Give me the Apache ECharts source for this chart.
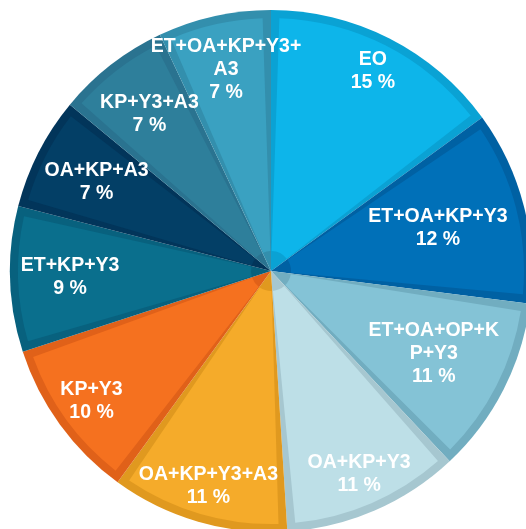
<!DOCTYPE html>
<html>
<head>
<meta charset="utf-8">
<script src="https://cdn.jsdelivr.net/npm/echarts@6/dist/echarts.min.js"></script>
<style>
html, body { margin: 0; padding: 0; background: #fff; }
#main { width: 526px; height: 529px; }
</style>
</head>
<body>
<div id="main"></div>
<script>
// categories and their shares (%)
var names = ['EO', 'ET+OA+KP+Y3', 'ET+OA+OP+KP+Y3', 'OA+KP+Y3', 'OA+KP+Y3+A3', 'KP+Y3', 'ET+KP+Y3', 'OA+KP+A3', 'KP+Y3+A3', 'ET+OA+KP+Y3+A3'];
var values = [15, 12, 11, 11, 11, 10, 9, 7, 7, 7];
// label text as wrapped in the picture
var labelNames = ['EO', 'ET+OA+KP+Y3', 'ET+OA+OP+K\nP+Y3', 'OA+KP+Y3', 'OA+KP+Y3+A3', 'KP+Y3', 'ET+KP+Y3', 'OA+KP+A3', 'KP+Y3+A3', 'ET+OA+KP+Y3+\nA3'];

// look
var fills = ['#0db5ea', '#0070b8', '#84c3d6', '#bddfe7', '#f5ab2a', '#f5711f', '#0a6f8d', '#033f66', '#2e7f9b', '#3aa1c1'];
var edges = ['#0aa2d4', '#0061a3', '#71adc0', '#a6c7d0', '#e0991f', '#e06119', '#08617e', '#02355a', '#2a7390', '#338fad'];
var labelDist = [0.86, 0.66, 0.70, 0.85, 0.86, 0.85, 0.77, 0.75, 0.76, 0.79];

var cx = 271, cy = 271, R = 261;

var chart = echarts.init(document.getElementById('main'));

var total = 0;
for (var i = 0; i < values.length; i++) total += values[i];
var mids = [];
var acc = 0;
for (var i = 0; i < values.length; i++) {
    mids.push((acc + values[i] / 2) / total * Math.PI * 2);
    acc += values[i];
}

var under = [], over = [];
for (var i = 0; i < names.length; i++) {
    under.push({ name: names[i], value: values[i], itemStyle: { color: edges[i] } });
    over.push({ name: names[i], value: values[i], itemStyle: { color: fills[i] } });
}

var option = {
    animation: false,
    backgroundColor: '#ffffff',
    series: [
        {
            type: 'pie',
            center: [cx, cy],
            radius: [0, R],
            startAngle: 90,
            silent: true,
            label: { show: false },
            labelLine: { show: false },
            data: under
        },
        {
            type: 'pie',
            center: [cx, cy],
            radius: [20, R - 8],
            startAngle: 90,
            padAngle: 3.8,
            silent: true,
            labelLine: { show: false },
            label: {
                show: true,
                position: 'inside',
                color: '#ffffff',
                fontFamily: 'Liberation Sans, Arial, sans-serif',
                fontWeight: 'bold',
                fontSize: 19.5,
                lineHeight: 23,
                align: 'center',
                verticalAlign: 'middle',
                formatter: function (p) {
                    return labelNames[p.dataIndex] + '\n' + p.value + ' %';
                }
            },
            labelLayout: function (p) {
                var a = mids[p.dataIndex];
                var d = R * labelDist[p.dataIndex];
                return {
                    x: cx + d * Math.sin(a),
                    y: cy - d * Math.cos(a),
                    align: 'center',
                    verticalAlign: 'middle'
                };
            },
            data: over
        }
    ]
};
chart.setOption(option);
</script>
</body>
</html>
